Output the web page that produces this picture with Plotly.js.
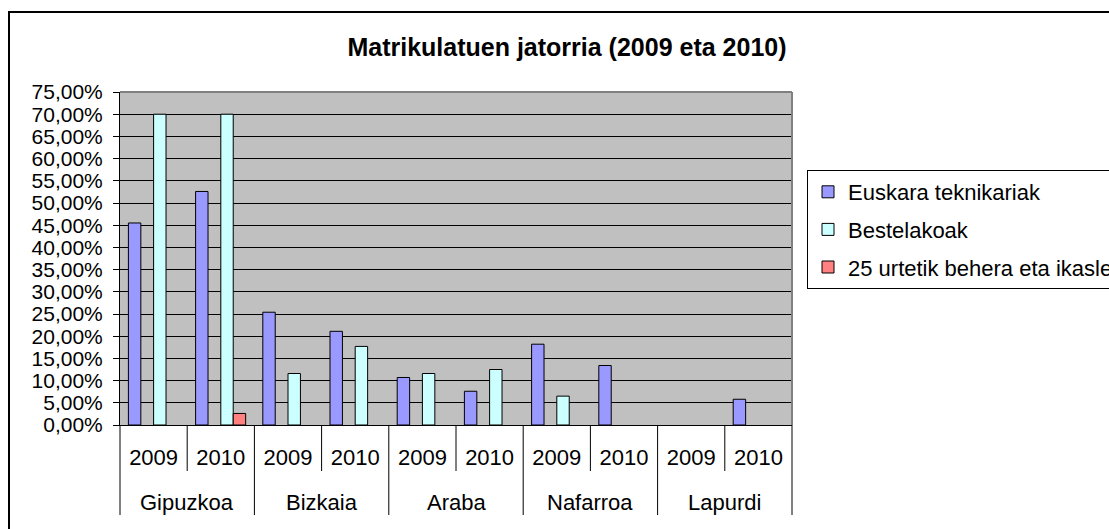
<!DOCTYPE html>
<html>
<head>
<meta charset="utf-8">
<script src="https://cdn.plot.ly/plotly-3.0.1.min.js"></script>
<style>
html,body{margin:0;padding:0;background:#fff;}
#chart{width:1109px;height:529px;}
</style>
</head>
<body>
<div id="chart"></div>
<script>
// ---- data ----
const provinces = ['Gipuzkoa', 'Bizkaia', 'Araba', 'Nafarroa', 'Lapurdi'];
const years = ['2009', '2010'];
const seriesNames = ['Euskara teknikariak', 'Bestelakoak', '25 urtetik behera eta ikaslea'];
const euskara     = [0.455, 0.526, 0.254, 0.211, 0.107, 0.076, 0.182, 0.134, null, 0.058];
const bestelakoak = [0.700, 0.700, 0.116, 0.177, 0.116, 0.125, 0.065, null, null, null];
const azpi25      = [null, 0.026, null, null, null, null, null, null, null, null];
const yTicks = [0, 0.05, 0.10, 0.15, 0.20, 0.25, 0.30, 0.35, 0.40, 0.45, 0.50, 0.55, 0.60, 0.65, 0.70, 0.75];

// ---- categories: one per province/year pair ----
const catKeys = [], catYears = [];
provinces.forEach(p => years.forEach(y => { catKeys.push(p + ' ' + y); catYears.push(y); }));

const colors = ['#9999FF', '#CCFFFF', '#FF8080'];
const offsets = [-0.375, 0.0, 0.185];
const barW = 0.185;
const values = [euskara, bestelakoak, azpi25];

const traces = values.map((v, i) => ({
  type: 'bar',
  name: seriesNames[i],
  x: catKeys,
  y: v,
  width: barW,
  offset: offsets[i],
  legendgroup: 'g' + i,
  marker: {color: colors[i], line: {color: '#000', width: 1}},
  hoverinfo: 'skip'
}));

// ---- geometry helpers (pixels -> paper) ----
const W = 1109, H = 529;
const mL = 120, mR = 317, mT = 92, mB = 104;
const pw = W - mL - mR, ph = H - mT - mB;
const px = x => (x - mL) / pw;
const py = y => (H - mB - y) / ph;

const shapes = [];
// category boundary lines below the axis
const nCat = catKeys.length;
for (let i = 0; i <= nCat; i++) {
  const isProv = (i % years.length === 0);
  shapes.push({
    type: 'line', xref: 'paper', yref: 'paper',
    x0: i / nCat, x1: i / nCat, y0: 0, y1: py(isProv ? 515 : 471),
    line: {color: '#000', width: 1}
  });
}
// plot area top/right grey border
shapes.push({type: 'line', xref: 'paper', yref: 'paper', x0: 0, x1: 1, y0: 1, y1: 1, line: {color: '#808080', width: 2}});
shapes.push({type: 'line', xref: 'paper', yref: 'paper', x0: 1, x1: 1, y0: 0, y1: 1, line: {color: '#808080', width: 2}});
// outer chart border
shapes.push({type: 'rect', xref: 'paper', yref: 'paper',
  x0: px(9), x1: px(1300), y0: py(700), y1: py(12),
  line: {color: '#000', width: 2}, fillcolor: 'rgba(0,0,0,0)'});

const FONT = 'Liberation Sans, Arial, sans-serif';
const TICKFONT = {family: FONT, size: 22, color: '#000'};

// province group labels (second level of the category axis)
const annotations = provinces.map((p, i) => ({
  text: p, showarrow: false,
  xref: 'paper', yref: 'paper',
  x: (2 * i + 1) / (2 * provinces.length), xanchor: 'center',
  y: py(502), yanchor: 'middle',
  font: TICKFONT
}));

const layout = {
  width: W, height: H,
  margin: {l: mL, r: mR, t: mT, b: mB, autoexpand: false},
  paper_bgcolor: '#fff',
  plot_bgcolor: '#C0C0C0',
  separators: ',.',
  font: {family: FONT, size: 22, color: '#000'},
  title: {
    text: '<b>Matrikulatuen jatorria (2009 eta 2010)</b>',
    font: {family: FONT, size: 25, color: '#000'},
    xref: 'container', yref: 'container',
    x: 567 / W, xanchor: 'center',
    y: 1 - 47 / H, yanchor: 'middle'
  },
  barmode: 'overlay',
  showlegend: true,
  legend: {
    x: px(807), xanchor: 'left',
    y: py(170), yanchor: 'top',
    bgcolor: '#fff', bordercolor: '#000', borderwidth: 1,
    font: {family: FONT, size: 22, color: '#000'},
    tracegroupgap: 6,
    traceorder: 'grouped'
  },
  xaxis: {
    type: 'category',
    categoryorder: 'array', categoryarray: catKeys,
    tickmode: 'array', tickvals: catKeys, ticktext: catYears,
    range: [-0.5, nCat - 0.5],
    showgrid: false,
    showline: true, linecolor: '#000', linewidth: 1,
    ticks: 'outside', ticklen: 13, tickcolor: 'rgba(0,0,0,0)',
    tickfont: TICKFONT,
    fixedrange: true
  },
  yaxis: {
    range: [0, 0.75],
    tickvals: yTicks,
    tickformat: '.2%',
    showgrid: true, gridcolor: '#000', gridwidth: 1,
    zeroline: true, zerolinecolor: '#000', zerolinewidth: 1,
    showline: true, linecolor: '#000', linewidth: 1,
    ticks: 'outside', ticklen: 6, tickcolor: '#000',
    ticklabelstandoff: 6,
    tickfont: {family: FONT, size: 21, color: '#000'},
    fixedrange: true
  },
  annotations: annotations,
  shapes: shapes
};

Plotly.newPlot('chart', traces, layout, {staticPlot: true, displayModeBar: false});
</script>
</body>
</html>
